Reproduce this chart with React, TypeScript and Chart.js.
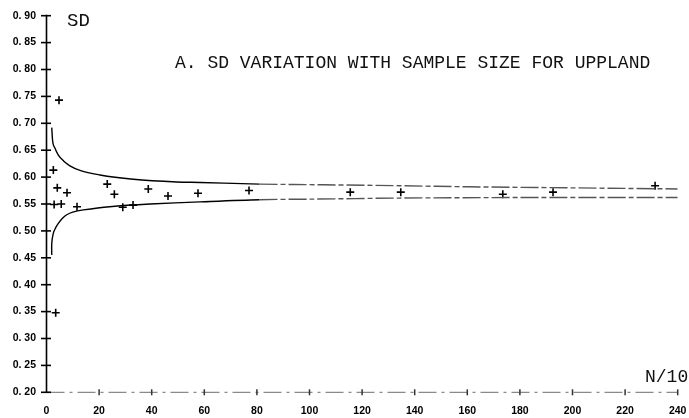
import React, { useEffect, useRef } from "react";
import { Chart, registerables } from "chart.js";

Chart.register(...registerables);

// Observed sample SD values (x = N/10, y = SD)
const pointX = [2.6, 2.9, 3.5, 4.1, 4.75, 5.6, 7.8, 11.6, 23.1, 25.8, 29.0, 32.9, 38.7, 46.2, 57.6, 77, 115.5, 134.7, 173.5, 192.6, 231.4];
const pointY = [0.613, 0.549, 0.348, 0.580, 0.743, 0.550, 0.571, 0.545, 0.587, 0.568, 0.544, 0.548, 0.578, 0.565, 0.570, 0.575, 0.572, 0.572, 0.568, 0.572, 0.584];

// Upper confidence curve
const upperX = [2, 2.3, 3.2, 4.5, 6.5, 8.9, 13, 20.3, 33, 49.5, 58.4, 81, 100, 134, 160, 200, 240];
const upperY = [0.692, 0.669, 0.654, 0.641, 0.630, 0.621, 0.612, 0.604, 0.596, 0.591, 0.590, 0.587, 0.586, 0.584, 0.582, 0.580, 0.578];

// Lower confidence curve
const lowerX = [2, 2, 2.6, 3.5, 4.5, 6, 7.7, 10, 14, 24, 39.4, 58.4, 81, 100, 134, 180, 240];
const lowerY = [0.455, 0.477, 0.496, 0.506, 0.514, 0.523, 0.530, 0.535, 0.539, 0.545, 0.550, 0.554, 0.558, 0.559, 0.561, 0.562, 0.562];

// Axis ticks
const xTickValues = [0, 20, 40, 60, 80, 100, 120, 140, 160, 180, 200, 220, 240];
const xTickLabels = ["0", "20", "40", "60", "80", "100", "120", "140", "160", "180", "200", "220", "240"];
const yTickValues = [0.2, 0.25, 0.3, 0.35, 0.4, 0.45, 0.5, 0.55, 0.6, 0.65, 0.7, 0.75, 0.8, 0.85, 0.9];
const yTickLabels = ["0. 20", "0. 25", "0. 30", "0. 35", "0. 40", "0. 45", "0. 50", "0. 55", "0. 60", "0. 65", "0. 70", "0. 75", "0. 80", "0. 85", "0. 90"];

const titleText = "A. SD VARIATION WITH SAMPLE SIZE FOR UPPLAND";
const yAxisTitle = "SD";
const xAxisTitle = "N/10";

const plotterFont = '"Liberation Mono", "DejaVu Sans Mono", monospace';
const tickFont = { family: '"Liberation Sans", Arial, sans-serif', size: 10.5, weight: "bold" };

const axesPlugin = {
  id: "plotterAxes",
  beforeDatasetsDraw(chart: any) {
    const { ctx, scales } = chart;
    const xs = scales.x;
    const ys = scales.y;
    const x0 = xs.getPixelForValue(0);
    const y0 = ys.getPixelForValue(0.2);
    ctx.save();
    // x axis: dash-dot gray line
    ctx.strokeStyle = "#8a8a8a";
    ctx.lineWidth = 1.2;
    ctx.setLineDash([18, 5, 3, 5]);
    ctx.beginPath();
    ctx.moveTo(x0, y0);
    ctx.lineTo(xs.getPixelForValue(240), y0);
    ctx.stroke();
    ctx.setLineDash([]);
    // x ticks
    ctx.strokeStyle = "#333";
    ctx.lineWidth = 1.5;
    xTickValues.forEach((v) => {
      if (v === 0) return;
      const px = xs.getPixelForValue(v);
      ctx.beginPath();
      ctx.moveTo(px, y0 - 3);
      ctx.lineTo(px, y0 + 3);
      ctx.stroke();
    });
    // y axis
    ctx.strokeStyle = "#000";
    ctx.lineWidth = 1.6;
    ctx.beginPath();
    ctx.moveTo(x0, y0);
    ctx.lineTo(x0, ys.getPixelForValue(0.9) - 1);
    ctx.stroke();
    // y cross ticks
    yTickValues.forEach((v) => {
      const py = ys.getPixelForValue(v);
      ctx.beginPath();
      ctx.moveTo(x0 - 5.5, py);
      ctx.lineTo(x0 + 4.5, py);
      ctx.stroke();
    });
    ctx.restore();
  },
  afterDraw(chart: any) {
    const { ctx } = chart;
    ctx.save();
    ctx.fillStyle = "#111";
    ctx.textBaseline = "alphabetic";
    ctx.textAlign = "left";
    ctx.font = "18px " + plotterFont;
    ctx.fillText(titleText, 175, 68);
    ctx.font = "19px " + plotterFont;
    ctx.fillText(yAxisTitle, 67, 26);
    ctx.font = "18px " + plotterFont;
    ctx.fillText(xAxisTitle, 645, 382);
    ctx.restore();
  },
};

export default function App() {
  const canvasRef = useRef<HTMLCanvasElement | null>(null);

  useEffect(() => {
    if (!canvasRef.current) return;
    const lateSegment = {
      borderColor: (c: any) => (c.p0.parsed.x >= 60 ? "#555" : "#000"),
      borderDash: (c: any) => (c.p0.parsed.x >= 60 ? [18, 3, 5, 3] : undefined),
    };
    const chart = new Chart(canvasRef.current, {
      type: "scatter",
      data: {
        datasets: [
          {
            type: "line",
            data: upperX.map((x, i) => ({ x, y: upperY[i] })),
            borderColor: "#000",
            borderWidth: 1.4,
            pointRadius: 0,
            cubicInterpolationMode: "monotone",
            fill: false,
            segment: lateSegment,
          } as any,
          {
            type: "line",
            data: lowerX.map((x, i) => ({ x, y: lowerY[i] })),
            borderColor: "#000",
            borderWidth: 1.4,
            pointRadius: 0,
            tension: 0.3,
            fill: false,
            segment: lateSegment,
          } as any,
          {
            data: pointX.map((x, i) => ({ x, y: pointY[i] })),
            pointStyle: "cross",
            pointRadius: 4,
            borderColor: "#000",
            backgroundColor: "#000",
            pointBorderWidth: 1.6,
          } as any,
        ],
      },
      options: {
        responsive: false,
        animation: false,
        layout: { padding: { left: 0, top: 15.7, right: 11.3, bottom: 0 } },
        plugins: { legend: { display: false }, tooltip: { enabled: false }, title: { display: false } },
        scales: {
          x: {
            type: "linear",
            min: 0,
            max: 240,
            grid: { display: false, drawTicks: false },
            border: { display: false },
            afterBuildTicks: (s: any) => {
              s.ticks = xTickValues.map((v) => ({ value: v }));
            },
            afterFit: (s: any) => {
              s.height = 25.7;
              s.paddingLeft = 0;
              s.paddingRight = 0;
            },
            ticks: {
              autoSkip: false,
              maxRotation: 0,
              padding: 12.5,
              color: "#000",
              font: tickFont,
              callback: (_v: any, i: number) => xTickLabels[i],
            },
          },
          y: {
            type: "linear",
            min: 0.2,
            max: 0.9,
            grid: { display: false, drawTicks: false },
            border: { display: false },
            afterBuildTicks: (s: any) => {
              s.ticks = yTickValues.map((v) => ({ value: v }));
            },
            afterFit: (s: any) => {
              s.width = 46.5;
              s.paddingTop = 0;
              s.paddingBottom = 0;
            },
            ticks: {
              autoSkip: false,
              padding: 10.5,
              color: "#000",
              font: tickFont,
              callback: (_v: any, i: number) => yTickLabels[i],
            },
          },
        },
      } as any,
      plugins: [axesPlugin],
    });
    return () => chart.destroy();
  }, []);

  return (
    <div style={{ position: "fixed", left: 0, top: 0, width: 689, height: 418, background: "#fff" }}>
      <canvas ref={canvasRef} width={689} height={418} style={{ display: "block", width: 689, height: 418 }} />
    </div>
  );
}
